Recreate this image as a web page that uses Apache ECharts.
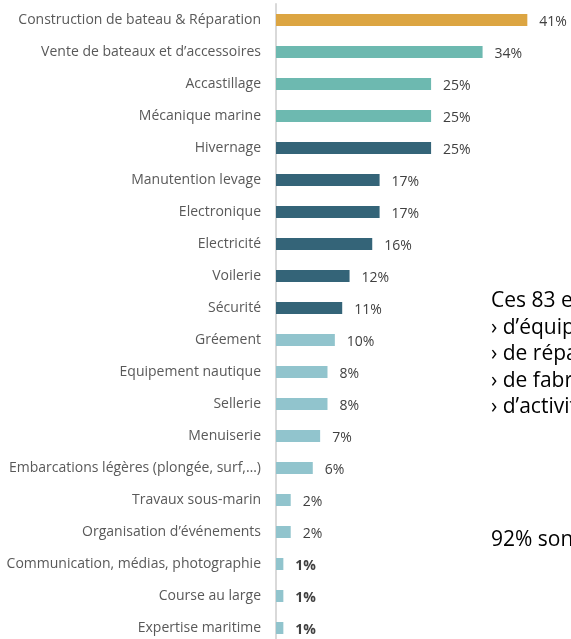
<!DOCTYPE html>
<html>
<head>
<meta charset="utf-8">
<script src="https://cdn.jsdelivr.net/npm/echarts@6/dist/echarts.min.js"></script>
<style>
  html, body { margin: 0; padding: 0; background: #fff; }
  #chart { width: 571px; height: 639px; }
</style>
</head>
<body>
<div id="chart"></div>
<script>
// secteurs d'activité (de haut en bas)
const categories = [
  'Construction de bateau & Réparation',
  'Vente de bateaux et d\u2019accessoires',
  'Accastillage',
  'Mécanique marine',
  'Hivernage',
  'Manutention levage',
  'Electronique',
  'Electricité',
  'Voilerie',
  'Sécurité',
  'Gréement',
  'Equipement nautique',
  'Sellerie',
  'Menuiserie',
  'Embarcations légères (plongée, surf,\u2026)',
  'Travaux sous-marin',
  'Organisation d\u2019événements',
  'Communication, médias, photographie',
  'Course au large',
  'Expertise maritime'
]
// part des entreprises en %
const values = [41.0, 33.7, 25.3, 25.3, 25.3, 16.9, 16.9, 15.7, 12.0, 10.8, 9.6, 8.4, 8.4, 7.2, 6.0, 2.4, 2.4, 1.2, 1.2, 1.2]
// groupe de couleur de chaque barre
const groups = [0, 1, 1, 1, 2, 2, 2, 2, 2, 2, 3, 3, 3, 3, 3, 3, 3, 3, 3, 3]
const groupColors = ['#DCA542', '#6DB9B0', '#346478', '#91C4CD']
// texte à droite (coupé par le bord)
const sideLines = [
  'Ces 83 entreprises disposent :',
  '\u203a d\u2019équipements spécifiques',
  '\u203a de réparation navale',
  '\u203a de fabrication',
  '\u203a d\u2019activités de service'
]
const sideFooter = '92% sont des TPE'

const myChart = echarts.init(document.getElementById('chart'))
const font = '"Open Sans", sans-serif'

myChart.setOption({
  animation: false,
  grid: { left: 276, top: 4, width: 306.5, height: 640, containLabel: false, outerBoundsMode: 'none' },
  xAxis: {
    type: 'value',
    min: 0,
    max: 50,
    show: false
  },
  yAxis: {
    type: 'category',
    inverse: true,
    data: categories,
    axisLine: { show: true, lineStyle: { color: '#D9D9D9', width: 2 } },
    axisTick: { show: false },
    axisLabel: { color: '#595959', fontSize: 14, fontFamily: font, margin: 15 }
  },
  series: [{
    type: 'bar',
    barWidth: 12,
    data: values.map((v, i) => ({
      value: v,
      itemStyle: { color: groupColors[groups[i]] },
      label: { fontWeight: i >= 17 ? 'bold' : 'normal' }
    })),
    label: {
      show: true,
      position: 'right',
      distance: 12,
      offset: [0, 2],
      color: '#404040',
      fontSize: 14,
      fontFamily: font,
      formatter: (p) => Math.round(p.value) + '%'
    }
  }],
  graphic: [
    ...sideLines.map((t, i) => ({
      type: 'text',
      left: 491,
      top: 291 + i * 26.5,
      style: { text: t, fill: '#000', font: '21px ' + font }
    })),
    {
      type: 'text',
      left: 491,
      top: 530,
      style: { text: sideFooter, fill: '#000', font: '21px ' + font }
    }
  ]
})
</script>
</body>
</html>
